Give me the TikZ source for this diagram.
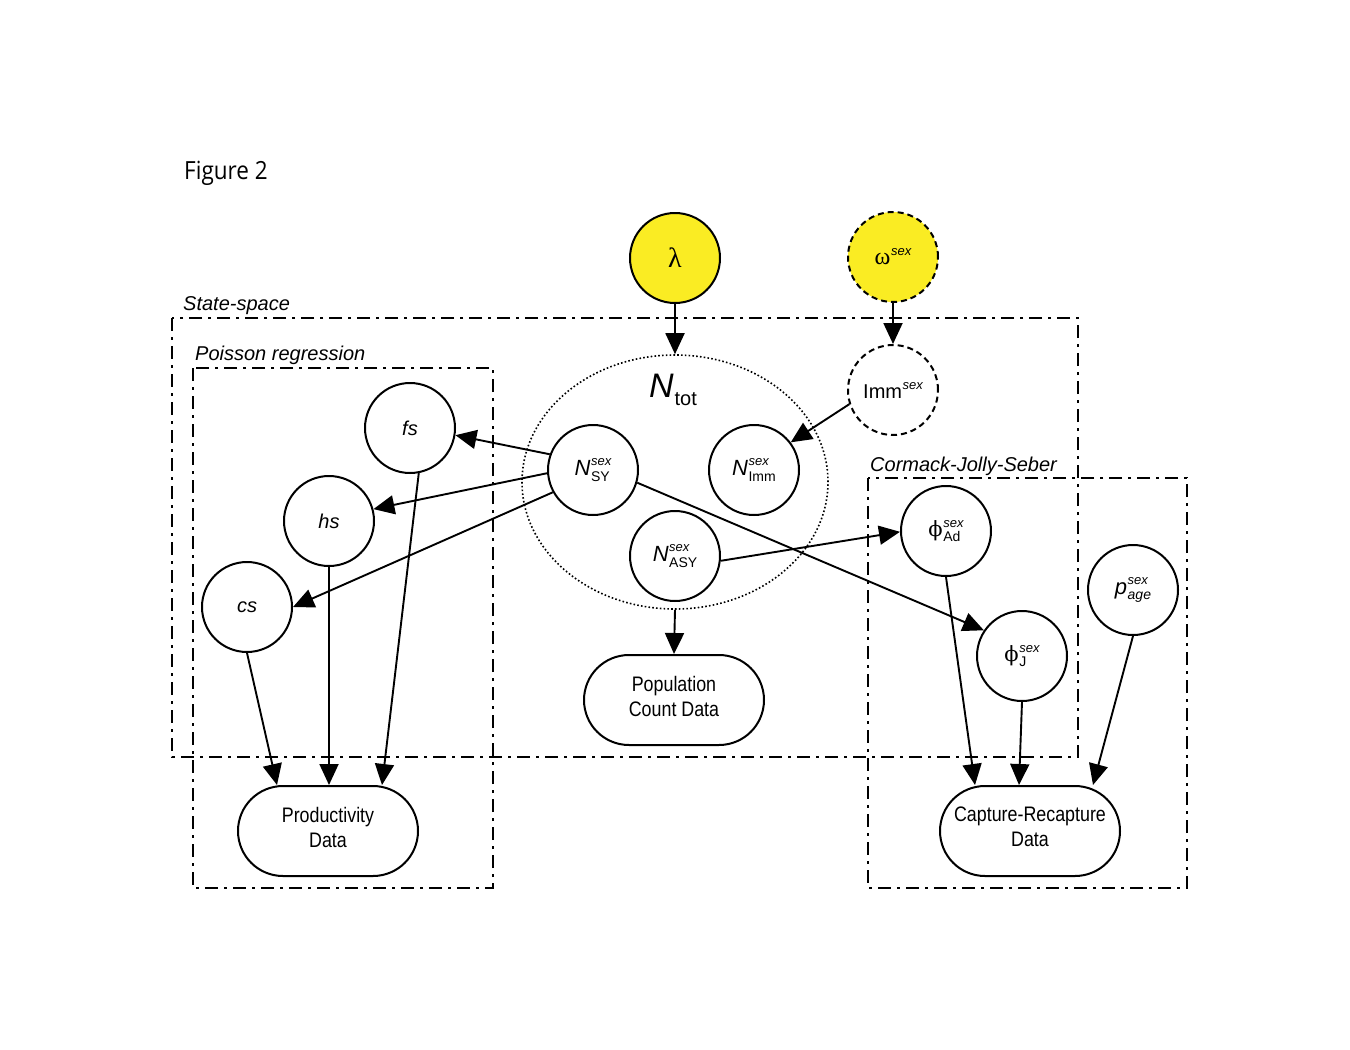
\documentclass[tikz,border=0pt]{standalone}
\usepackage{fontspec}
\setmainfont{Liberation Sans}
\newfontfamily\narrowfont[FakeStretch=0.85]{Liberation Sans}
\newfontfamily\greekfont{Liberation Serif}
\newfontfamily\phifont{DejaVu Serif}
\newfontfamily\figfont[FakeStretch=0.9]{Open Sans}
\usetikzlibrary{arrows.meta,shapes.misc,shapes.geometric,calc}

% symbol with italic superscript and upright subscript stacked on its right
\newcommand\supsub[5]{%
  {#1}\kern0.5pt%
  \setbox0=\hbox{\fontsize{13}{13}\selectfont\itshape #2}%
  \setbox2=\hbox{\fontsize{14}{14}\selectfont #3}%
  \dimen0=\wd0 \ifdim\wd2>\dimen0 \dimen0=\wd2\fi
  \makebox[\dimen0][l]{\rlap{\raise #4\box0}\lower #5\box2}}

% extra depth below the last line of a data label
\newcommand\lowstrut{\rule[-8pt]{0pt}{8pt}}

\definecolor{hyperyellow}{RGB}{250,236,35}

\tikzset{
  every node/.style={font=\fontsize{20}{24}\selectfont},
  var/.style={circle, draw, line width=2pt, minimum size=90pt, inner sep=0pt, fill=white},
  prior/.style={var, fill=hyperyellow},
  dashedvar/.style={dash pattern=on 6pt off 4pt},
  datanode/.style={rounded rectangle, draw, line width=2pt, minimum width=180pt,
    minimum height=90pt, inner sep=0pt, align=center,
    font=\narrowfont\fontsize{21}{25}\selectfont},
  groupbox/.style={line width=1.8pt, dash pattern=on 13pt off 6pt on 3pt off 6pt},
  grouplabel/.style={anchor=base west, inner sep=0pt, font=\itshape\fontsize{20}{24}\selectfont},
  link/.style={line width=1.9pt, -{Triangle[length=21pt,width=19pt]}},
}

\begin{document}
\begin{tikzpicture}[x=1pt,y=-1pt]
\useasboundingbox (0,0) rectangle (1350,1050);
\fill[white] (0,0) rectangle (1350,1050);

% title
\node[anchor=base west, inner sep=0pt, font=\figfont\fontsize{25}{29}\selectfont] (title) at (184,179) {Figure 2};

% model blocks
\draw[groupbox] (172,318) rectangle (1078,757);
\node[grouplabel] (lstate) at (183,310) {State-space};
\draw[groupbox] (193,368) rectangle (493,888);
\node[grouplabel] (lpois) at (195,360) {Poisson regression};
\draw[groupbox] (868,478) rectangle (1187,888);
\node[grouplabel] (lcjs) at (870,471) {Cormack-Jolly-Seber};

% total population ellipse
\node[ellipse, draw, line width=1.6pt, dash pattern=on 1.6pt off 2.2pt,
      minimum width=306pt, minimum height=254pt, inner sep=0pt] (ntot) at (675,482) {};
\node[inner sep=0pt] (ntotlab) at (673,390)
  {{\fontsize{34}{34}\selectfont\itshape N}\kern1pt{\fontsize{20}{20}\selectfont\lower 8pt\hbox{tot}}};

% priors
\node[prior] (lam) at (675,258) {\greekfont\fontsize{28}{28}\selectfont λ};
\node[prior, dashedvar] (omega) at (893,257) {\supsub{\greekfont\fontsize{24}{24}\selectfont ω}{sex}{}{9pt}{0pt}};
\node[var, dashedvar] (imm) at (893,390) {\supsub{Imm}{sex}{}{9pt}{0pt}};

% abundance states
\node[var] (nsy) at (593,470) {\supsub{\fontsize{22}{22}\selectfont\itshape N}{sex}{SY}{10pt}{6pt}};
\node[var] (nimm) at (754,470) {\supsub{\fontsize{22}{22}\selectfont\itshape N}{sex}{Imm}{10pt}{6pt}};
\node[var] (nasy) at (675,556) {\supsub{\fontsize{22}{22}\selectfont\itshape N}{sex}{ASY}{10pt}{6pt}};

% productivity parameters
\node[var] (fs) at (410,428) {\itshape fs};
\node[var] (hs) at (329,521) {\itshape hs};
\node[var] (cs) at (247,607) {\itshape cs};

% survival and detection
\node[var] (phiad) at (946,531) {\supsub{\phifont\fontsize{21}{21}\selectfont ϕ}{sex}{Ad}{9pt}{5pt}};
\node[var] (phij) at (1022,656) {\supsub{\phifont\fontsize{21}{21}\selectfont ϕ}{sex}{J}{9pt}{5pt}};
\node[var] (page) at (1133,590) {\supsub{\fontsize{22}{22}\selectfont\itshape p}{sex}{\itshape age}{10pt}{5pt}};

% data
\node[datanode] (pop) at (674,700) {Population\\Count Data\lowstrut};
\node[datanode] (prod) at (328,831) {Productivity\\Data\lowstrut};
\node[datanode] (cr) at (1030,831) {Capture-Recapture\\Data\lowstrut};

% dependencies
\draw[link] (lam) -- (ntot.north);
\draw[link] (omega) -- (imm);
\draw[link] (imm.198) -- (nimm.37);
\draw[link] (nsy.160) -- (fs.351);
\draw[link] (nsy.184) -- (hs.15);
\draw[link] (nsy.209) -- (cs.0);
\draw[link] (nsy.344) -- (phij.146);
\draw[link] (nasy.354) -- (phiad.181);
\draw[link] (ntot.south) -- (pop.north);

\draw[link] (cs.south) -- ($(prod.north)+(-51,0)$);
\draw[link] (hs.south) -- ($(prod.north)+(1,0)$);
\draw[link] (fs.281) -- ($(prod.north)+(54,0)$);

\draw[link] (phiad.south) -- ($(cr.north)+(-55,0)$);
\draw[link] (phij.south) -- ($(cr.north)+(-11,0)$);
\draw[link] (page.south) -- ($(cr.north)+(63,0)$);
\end{tikzpicture}
\end{document}
